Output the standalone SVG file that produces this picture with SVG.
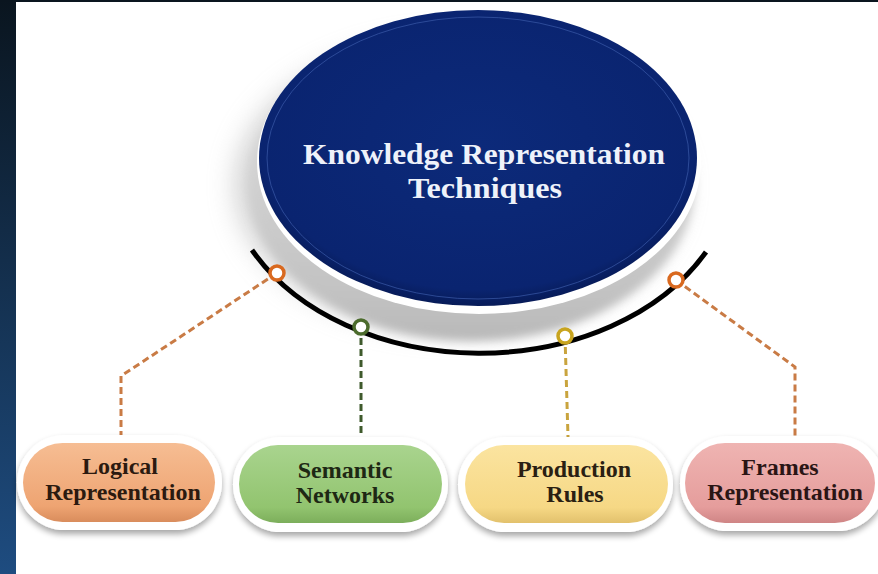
<svg xmlns="http://www.w3.org/2000/svg" width="878" height="574" viewBox="0 0 878 574">
<style>
.pt{font-family:"Liberation Serif","Times New Roman",serif;font-weight:bold;font-size:24px;text-anchor:middle}
.tt{font-family:"Liberation Serif","Times New Roman",serif;font-weight:bold;font-size:29px;text-anchor:middle;fill:#eef2fa}
.rim{fill:#ffffff;filter:url(#ds)}
.dash{fill:none;stroke-width:3;stroke-dasharray:7 4}
.dot{fill:#ffffff;stroke-width:3.5}
</style>
<defs>
<linearGradient id="side" x1="0" y1="0" x2="0" y2="1">
<stop offset="0" stop-color="#0a151f"/>
<stop offset="1" stop-color="#1e4c80"/>
</linearGradient>
<linearGradient id="plate" x1="0" y1="0" x2="0" y2="1">
<stop offset="0.3" stop-color="#d8d8d8"/>
<stop offset="0.85" stop-color="#c2c2c2"/>
<stop offset="1" stop-color="#b8b8b8"/>
</linearGradient>
<radialGradient id="blue" cx="0.5" cy="0.45" r="0.55">
<stop offset="0" stop-color="#0c2a7a"/>
<stop offset="0.9" stop-color="#0a2470"/>
<stop offset="1" stop-color="#071b58"/>
</radialGradient>
<linearGradient id="gO" x1="0" y1="0" x2="0" y2="1">
<stop offset="0" stop-color="#f6bd93"/>
<stop offset="0.8" stop-color="#eea472"/>
<stop offset="1" stop-color="#d98c5c"/>
</linearGradient>
<linearGradient id="gG" x1="0" y1="0" x2="0" y2="1">
<stop offset="0" stop-color="#a9d48e"/>
<stop offset="0.8" stop-color="#92c46f"/>
<stop offset="1" stop-color="#7cae5b"/>
</linearGradient>
<linearGradient id="gY" x1="0" y1="0" x2="0" y2="1">
<stop offset="0" stop-color="#fbe4a0"/>
<stop offset="0.8" stop-color="#f6d885"/>
<stop offset="1" stop-color="#e2c16c"/>
</linearGradient>
<linearGradient id="gP" x1="0" y1="0" x2="0" y2="1">
<stop offset="0" stop-color="#efb4b2"/>
<stop offset="0.8" stop-color="#e59d9c"/>
<stop offset="1" stop-color="#cf8585"/>
</linearGradient>
<filter id="ds" x="-20%" y="-30%" width="140%" height="170%">
<feGaussianBlur in="SourceAlpha" stdDeviation="3"/>
<feOffset dx="0" dy="4" result="b"/>
<feComponentTransfer><feFuncA type="linear" slope="0.35"/></feComponentTransfer>
<feMerge><feMergeNode/><feMergeNode in="SourceGraphic"/></feMerge>
</filter>
<filter id="blur" x="-30%" y="-30%" width="160%" height="160%">
<feGaussianBlur stdDeviation="14"/>
</filter>
<filter id="soft" x="-10%" y="-10%" width="120%" height="120%">
<feGaussianBlur stdDeviation="5"/>
</filter>
</defs>

<rect width="878" height="574" fill="#ffffff"/>
<rect x="0" y="0" width="16" height="574" fill="url(#side)"/>
<rect x="0" y="0" width="878" height="2" fill="#0a151f"/>

<g id="center">
<ellipse cx="458" cy="185" rx="222" ry="145" fill="#a0a0a0" opacity="0.5" filter="url(#blur)"/>
<ellipse cx="472" cy="186" rx="222" ry="155" fill="url(#plate)" filter="url(#soft)"/>
<ellipse cx="479" cy="162" rx="222" ry="152" fill="#ffffff"/>
<ellipse cx="478" cy="158" rx="219" ry="148" fill="url(#blue)"/>
<ellipse cx="478" cy="158" rx="211" ry="141" fill="none" stroke="#3a5aa8" stroke-width="1" opacity="0.7"/>
<text class="tt" x="484" y="164" textLength="362" lengthAdjust="spacingAndGlyphs">Knowledge Representation</text>
<text class="tt" x="485" y="198" textLength="154" lengthAdjust="spacingAndGlyphs">Techniques</text>
</g>

<g id="connectors">
<path d="M252,250 A256 190 0 0 0 706,252" fill="none" stroke="#000000" stroke-width="5"/>
<polyline class="dash" stroke="#c97b45" points="277,273 121,376 121,437"/>
<polyline class="dash" stroke="#3f5a2c" points="361,327 361,437"/>
<polyline class="dash" stroke="#c9a43e" points="565,336 568,437"/>
<polyline class="dash" stroke="#c97b45" points="676,280 795,367 795,437"/>
<circle class="dot" cx="277" cy="273" r="7" stroke="#d9691f"/>
<circle class="dot" cx="361" cy="327" r="7" stroke="#4b6b2c"/>
<circle class="dot" cx="565" cy="336" r="7" stroke="#c8a41e"/>
<circle class="dot" cx="676" cy="280" r="7" stroke="#d9691f"/>
</g>

<g id="logical">
<rect class="rim" x="17" y="435" width="205" height="95" rx="47.5"/>
<rect x="23" y="443" width="192" height="79" rx="39.5" fill="url(#gO)"/>
<text class="pt" x="120" y="474" fill="#2b1a10">Logical</text>
<text class="pt" x="123" y="500" fill="#2b1a10">Representation</text>
</g>

<g id="semantic">
<rect class="rim" x="233" y="437" width="215" height="95" rx="47.5"/>
<rect x="239" y="445" width="203" height="78" rx="39" fill="url(#gG)"/>
<text class="pt" x="345" y="478" fill="#1e2814">Semantic</text>
<text class="pt" x="345" y="503" fill="#1e2814">Networks</text>
</g>

<g id="production">
<rect class="rim" x="458" y="437" width="215" height="95" rx="47.5"/>
<rect x="465" y="445" width="203" height="78" rx="39" fill="url(#gY)"/>
<text class="pt" x="574" y="477" fill="#2a2012">Production</text>
<text class="pt" x="575" y="502" fill="#2a2012">Rules</text>
</g>

<g id="frames">
<rect class="rim" x="680" y="436" width="205" height="95" rx="47.5"/>
<rect x="685" y="443" width="190" height="80" rx="40" fill="url(#gP)"/>
<text class="pt" x="780" y="475" fill="#2a1515">Frames</text>
<text class="pt" x="785" y="500" fill="#2a1515">Representation</text>
</g>
</svg>
